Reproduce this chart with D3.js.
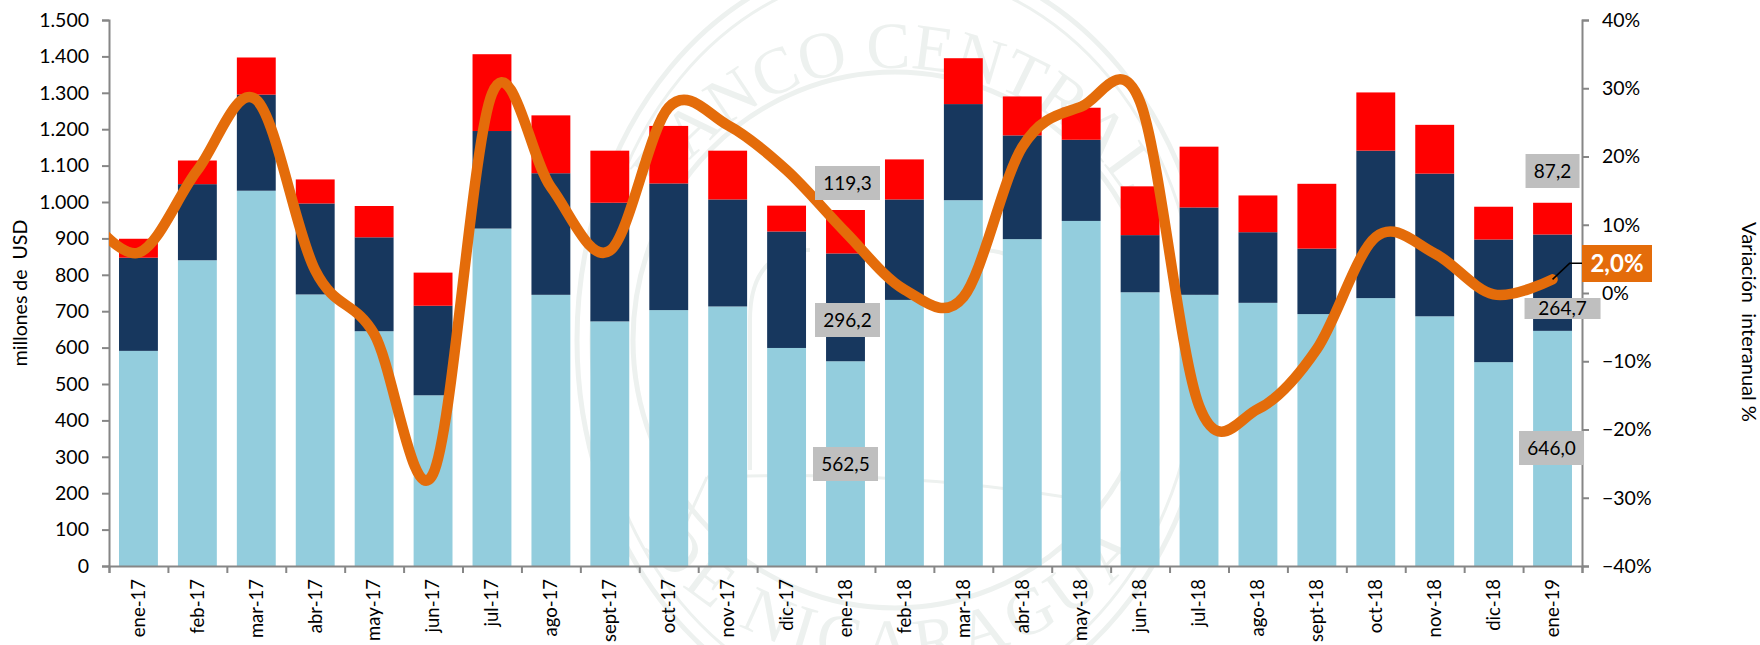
<!DOCTYPE html>
<html>
<head>
<meta charset="utf-8">
<script src="https://cdnjs.cloudflare.com/ajax/libs/d3/7.8.5/d3.min.js"></script>
<style>
html,body{margin:0;padding:0;background:#fff;}
svg{display:block;}
text{font-family:Lato,"Open Sans",sans-serif;fill:#000;}
</style>
</head>
<body>
<svg id="chart" width="1760" height="645"></svg>
<script>
// ---------- data ----------
const categories = ["ene-17","feb-17","mar-17","abr-17","may-17","jun-17","jul-17","ago-17","sept-17","oct-17","nov-17","dic-17",
  "ene-18","feb-18","mar-18","abr-18","may-18","jun-18","jul-18","ago-18","sept-18","oct-18","nov-18","dic-18","ene-19"];
const lightBar = [591,840,1031,746,645,469,927,745,672,703,713,599,562.5,731,1005,898,948,752,745,723,692,736,686,560,646.0];
const navyBar  = [256,209,264,250,258,246,268,334,326,348,294,320,296.2,276,264,285,223,157,240,194,180,405,392,337,264.7];
const redBar   = [52,65,102,66,86,91,211,159,143,158,134,71,119.3,110,126,107,88,134,167,101,178,160,134,90,87.2];
const variation = [5.9,18,28.3,3.3,-6,-26.5,29.2,15.5,6.2,27.2,24.6,18,8.9,0.5,-0.6,21.4,27.3,28,-16.5,-17,-8.2,8.2,5.8,-0.2,2.0];
const variationBefore = 12.7;
const leftTicks = [0,100,200,300,400,500,600,700,800,900,1000,1100,1200,1300,1400,1500];
const rightTicks = [-0.4,-0.3,-0.2,-0.1,0,0.1,0.2,0.3,0.4];
const seriesColors = ["#93CDDD","#17375E","#FF0000"];
const lineColor = "#E46C0A";
const grey = "#868686";
const sealTopText = "BANCO CENTRAL";
const sealBottomText = "DE NICARAGUA";

// ---------- scales ----------
const L = 109, R = 1582, T = 20, B = 566;
const x = d3.scaleBand().domain(categories).range([L,R]).paddingInner(0.34).paddingOuter(0.17);
const xEdges = d3.scaleLinear().domain([0,categories.length]).range([L,R]);
const y = d3.scaleLinear().domain([0,1500]).range([B,T]);
const y2 = d3.scaleLinear().domain([-0.4,0.4]).range([B,T]);
const cx = c => x(c) + x.bandwidth()/2;

const svg = d3.select("#chart");

// ---------- watermark (seal behind the chart) ----------
const sealColor = "#EDF1EF";
const seal = svg.append("g").attr("transform","translate(895,340)")
  .attr("fill","none").attr("stroke",sealColor);
[[318,385,5],[304,370,3],[262,268,5]].forEach(([rx,ry,w]) =>
  seal.append("ellipse").attr("rx",rx).attr("ry",ry).attr("stroke-width",w));
const defs = svg.append("defs");
defs.append("path").attr("id","sealTop").attr("d","M -272 0 A 272 272 0 0 1 272 0");
defs.append("path").attr("id","sealBottom").attr("d","M -325 0 A 325 325 0 0 0 325 0");
[["#sealTop",sealTopText,"0"],["#sealBottom",sealBottomText,"6px"]].forEach(([href,t,ls]) => {
  seal.append("text").attr("stroke","none").style("fill",sealColor)
    .style("font-family","'Liberation Serif',serif").style("font-size","66px").style("letter-spacing",ls)
    .append("textPath").attr("href",href).attr("startOffset","50%").attr("text-anchor","middle").text(t);
});
seal.append("path").attr("stroke-width",4)
  .attr("d","M -145 130 L -145 -20 Q -145 -90 -85 -90 M 145 130 L 145 -20 Q 145 -90 85 -90");
seal.append("path").attr("stroke-width",3).attr("d","M -188 137 Q 0 130 170 157 M -188 137 L -210 185 M 170 157 L 195 200");

// ---------- stacked bars ----------
const stack = d3.stack().keys([0,1,2]).value((d,k) => d[k]);
const rows = categories.map((c,i) => [lightBar[i],navyBar[i],redBar[i]]);
stack(rows).forEach((layer,k) => {
  svg.append("g").attr("fill",seriesColors[k]).selectAll("rect").data(layer).join("rect")
    .attr("x",(d,i) => x(categories[i]))
    .attr("width",x.bandwidth())
    .attr("y",d => y(d[1]))
    .attr("height",d => y(d[0]) - y(d[1]));
});

// ---------- axes ----------
const loc = d3.formatLocale({decimal:",",thousands:".",grouping:[3],currency:["","" ]});
function styleAxis(g, size){
  g.selectAll("path.domain").attr("stroke",grey).attr("stroke-width",2);
  g.selectAll(".tick line").attr("stroke",grey).attr("stroke-width",2);
  g.selectAll("text").style("font-size",size||"19px").style("font-family","Lato,sans-serif").attr("fill","#000");
}
svg.append("g").attr("transform",`translate(${L},0)`)
  .call(d3.axisLeft(y).tickValues(leftTicks).tickFormat(loc.format(",d")).tickSize(7).tickPadding(13))
  .call(styleAxis,"19.5px");
svg.append("g").attr("transform",`translate(${R},0)`)
  .call(d3.axisRight(y2).tickValues(rightTicks).tickFormat(d3.format(".0%")).tickSize(7).tickPadding(13))
  .call(styleAxis,"19.5px");
svg.append("g").attr("transform",`translate(0,${B})`)
  .call(d3.axisBottom(xEdges).ticks(categories.length).tickFormat("").tickSize(7))
  .call(styleAxis);
svg.append("g").attr("transform",`translate(0,${B})`)
  .call(d3.axisBottom(x).tickSize(0).tickPadding(14))
  .call(g => g.select("path.domain").remove())
  .call(g => g.selectAll("text").style("font-size","18.5px").style("font-family","Lato,sans-serif").attr("fill","#000")
    .attr("text-anchor","end").attr("dy","0.34em").attr("dx",0)
    .attr("transform","rotate(-90)").attr("x",-13).attr("y",0));

// ---------- titles ----------
svg.append("text").attr("transform","translate(27,293) rotate(-90)").attr("text-anchor","middle")
  .style("font-size","19.5px").style("white-space","pre").text("millones de  USD");
svg.append("text").attr("transform","translate(1742,322) rotate(90)").attr("text-anchor","middle")
  .style("font-size","20px").style("white-space","pre").text("Variación  interanual %");

// ---------- line ----------
defs.append("clipPath").attr("id","plotClip").append("rect").attr("x",L).attr("y",0).attr("width",1760-L).attr("height",645);
const lineData = [[cx(categories[0]) - x.step(), variationBefore/100]]
  .concat(categories.map((c,i) => [cx(c), variation[i]/100]));
const line = d3.line().x(d => d[0]).y(d => y2(d[1])).curve(d3.curveCardinal.tension(0));
svg.append("path").datum(lineData).attr("clip-path","url(#plotClip)")
  .attr("fill","none").attr("stroke",lineColor).attr("stroke-width",10.5).attr("stroke-linecap","round")
  .attr("stroke-linejoin","round").attr("d",line);

// ---------- value labels ----------
const fmt1 = v => v.toFixed(1).replace(".",",");
const lastI = categories.length - 1, janI = 12;
const labelBoxes = [
  {i:janI, v:redBar[janI],    dx:2,  cy:183, w:65, h:34},
  {i:janI, v:navyBar[janI],   dx:2,  cy:320, w:65, h:34},
  {i:janI, v:lightBar[janI],  dx:0,  cy:464, w:65, h:34},
  {i:lastI,v:redBar[lastI],   dx:0,  cy:171, w:54, h:34},
  {i:lastI,v:navyBar[lastI],  dx:10, cy:308.5, w:76, h:21},
  {i:lastI,v:lightBar[lastI], dx:-1, cy:448, w:65, h:34}
];
const lab = svg.append("g").selectAll("g").data(labelBoxes).join("g")
  .attr("transform",d => `translate(${cx(categories[d.i])+d.dx},${d.cy})`);
lab.append("rect").attr("x",d => -d.w/2).attr("y",d => -d.h/2).attr("width",d => d.w).attr("height",d => d.h).attr("fill","#BFBFBF");
lab.append("text").attr("text-anchor","middle").attr("dy","0.36em").style("font-size","19px").text(d => fmt1(d.v));

// last-value callout
const lastX = cx(categories[lastI]), lastY = y2(variation[lastI]/100);
svg.append("path").attr("fill","none").attr("stroke","#000").attr("stroke-width",1.5)
  .attr("d",d3.line()([[lastX,lastY],[lastX+17,lastY-16],[R,lastY-16]]));
svg.append("rect").attr("x",R).attr("y",245).attr("width",70).attr("height",37).attr("fill",lineColor);
svg.append("text").attr("x",R+35).attr("y",263.5).attr("dy","0.36em").attr("text-anchor","middle")
  .style("font-size","24px").style("font-weight","700").style("fill","#fff")
  .text(fmt1(variation[lastI]) + "%");
</script>
</body>
</html>
